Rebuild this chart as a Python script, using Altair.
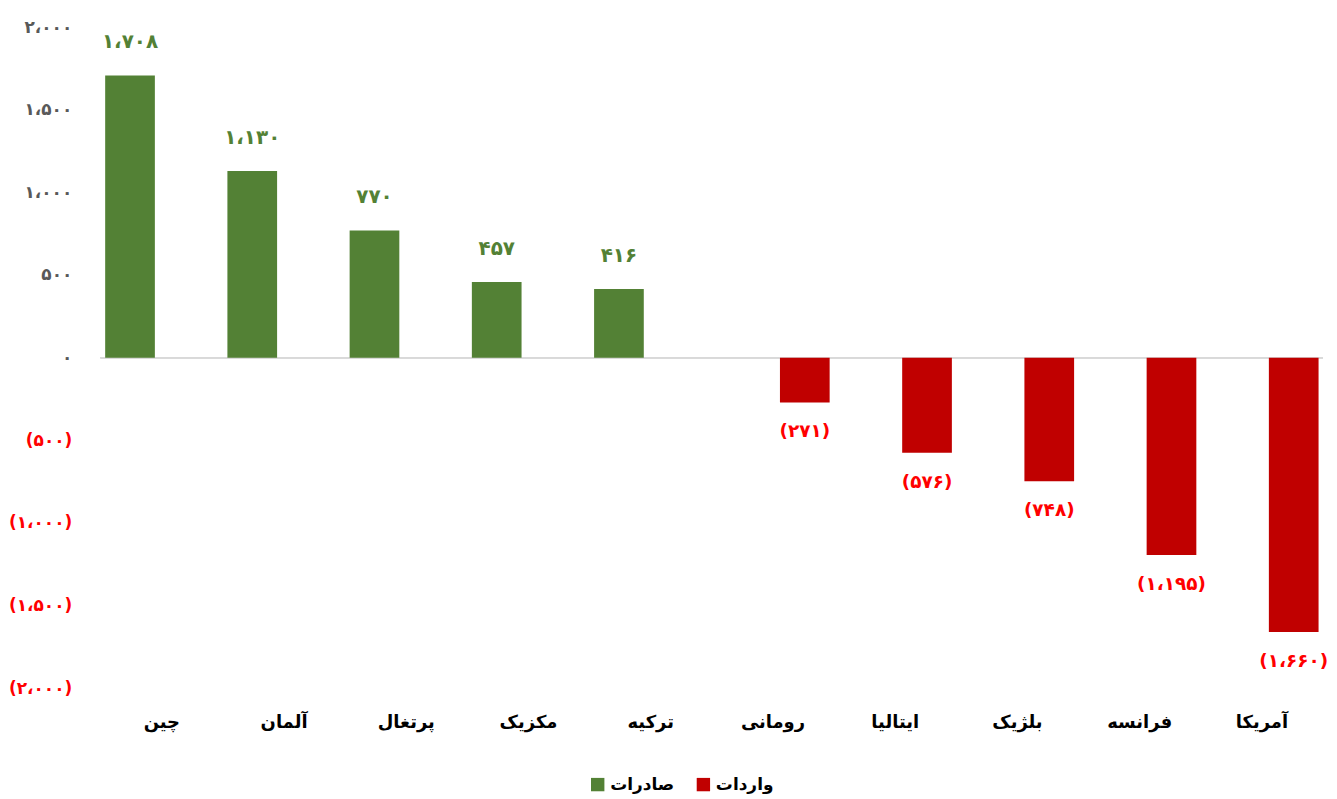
import altair as alt
import pandas as pd

countries = ["چین", "آلمان", "پرتغال", "مکزیک", "ترکیه",
             "رومانی", "ایتالیا", "بلژیک", "فرانسه", "آمریکا"]
values = [1708, 1130, 770, 457, 416, -271, -576, -748, -1195, -1660]
series = ["صادرات"] * 5 + ["واردات"] * 5
series_names = ["صادرات", "واردات"]
series_colors = ["#538135", "#C00000"]

tick_values = [-2000, -1500, -1000, -500, 0, 500, 1000, 1500, 2000]
tick_labels = ["(۲،۰۰۰)", "(۱،۵۰۰)", "(۱،۰۰۰)", "(۵۰۰)", "۰",
               "۵۰۰", "۱،۰۰۰", "۱،۵۰۰", "۲،۰۰۰"]

FA = str.maketrans("0123456789", "۰۱۲۳۴۵۶۷۸۹")


def fa(n):
    s = f"{abs(n):,}".replace(",", "،").translate(FA)
    return f"({s})" if n < 0 else s


df = pd.DataFrame({
    "country": countries,
    "value": values,
    "series": series,
    "label": [fa(v) for v in values],
})

label_expr = " : ".join(
    f"datum.value == {v} ? '{t}'" for v, t in zip(tick_values, tick_labels)
) + " : ''"

FONT = "DejaVu Sans"

x = alt.X("country:N", sort=countries,
          scale=alt.Scale(paddingInner=0, paddingOuter=0, round=False),
          axis=alt.Axis(title=None, labelAngle=0, domain=False, ticks=False,
                        labelFontSize=18, labelFontWeight="bold",
                        labelColor="#000000", labelPadding=25, labelFont=FONT))
xo = alt.XOffset("series:N", sort=series_names,
                 scale=alt.Scale(domain=series_names, paddingInner=0.219,
                                 paddingOuter=0.07, round=False))
y = alt.Y("value:Q", scale=alt.Scale(domain=[-2000, 2000], nice=False),
          axis=alt.Axis(values=tick_values, labelExpr=label_expr, title=None,
                        domain=False, ticks=False, grid=False, labelPadding=29,
                        labelFontSize=17, labelFontWeight="bold", labelFont=FONT,
                        labelColor={"condition": {"test": "datum.value < 0",
                                                  "value": "#FF0000"},
                                    "value": "#595959"}))

base = alt.Chart(df)

bars = base.mark_bar().encode(
    x=x, xOffset=xo, y=y,
    color=alt.Color("series:N",
                    scale=alt.Scale(domain=series_names, range=series_colors),
                    legend=alt.Legend(title=None, orient="none", direction="horizontal",
                                      legendX=490, legendY=751,
                                      symbolType="square", symbolSize=180,
                                      labelFontSize=17, labelFontWeight="bold",
                                      labelFont=FONT, labelColor="#000000",
                                      columnPadding=20, symbolStrokeWidth=0)),
)

zero = base.mark_rule(color="#D9D9D9", strokeWidth=1.5).encode(y=alt.datum(0))

pos_text = base.transform_filter("datum.value > 0").mark_text(
    dy=-33, fontSize=20, fontWeight="bold", font=FONT, color="#538135",
    baseline="middle").encode(x=x, xOffset=xo, y=y, text="label:N")

neg_text = base.transform_filter("datum.value < 0").mark_text(
    dy=29, fontSize=18.5, fontWeight="bold", font=FONT, color="#FF0000",
    baseline="middle").encode(x=x, xOffset=xo, y=y, text="label:N")

chart = alt.layer(zero, bars, pos_text, neg_text).properties(
    width=1226, height=663, padding={"left": 0, "top": 9, "right": 0, "bottom": 0}
).configure_view(stroke=None)

chart.save("out.html", embed_options={"renderer": "svg", "actions": False})
